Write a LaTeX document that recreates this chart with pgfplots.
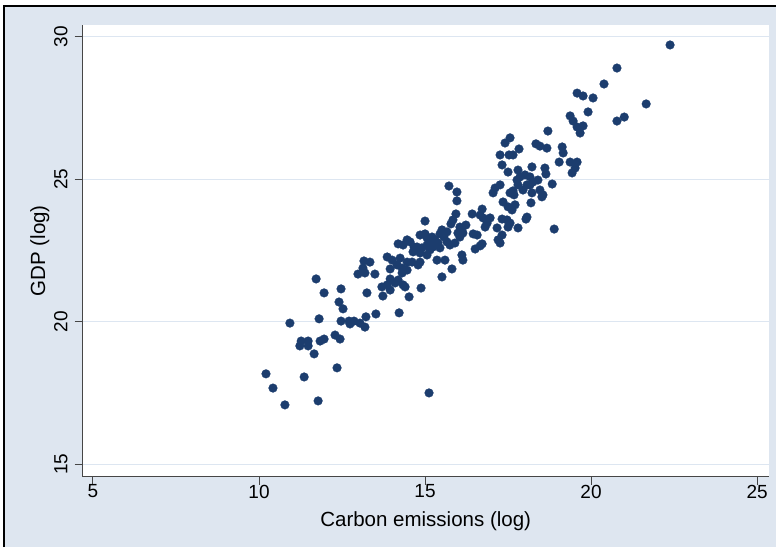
\documentclass[border=0pt]{standalone}
\usepackage{fontspec}
\setmainfont{Liberation Sans}
\usepackage{pgfplots}
\usepackage{pgfplotstable}
\pgfplotsset{compat=1.18}
\definecolor{bgc}{RGB}{222,230,240}
\definecolor{gridc}{RGB}{221,230,241}
\definecolor{mk}{RGB}{28,61,110}
\definecolor{axc}{RGB}{70,70,70}

\pgfplotstableread{
x y
10.21 18.17
10.42 17.67
10.78 17.08
11.36 18.06
11.78 17.22
12.35 18.38
11.66 18.87
10.93 19.95
11.72 21.50
11.96 21.01
11.81 20.10
11.27 19.32
11.48 19.32
11.23 19.15
11.48 19.15
11.84 19.32
11.96 19.39
12.29 19.53
12.44 19.39
12.47 21.15
12.41 20.69
12.53 20.45
12.47 20.02
12.71 20.02
12.86 20.02
12.74 19.92
13.04 19.95
13.19 19.81
13.22 20.17
13.52 20.27
13.25 21.01
12.98 21.67
13.19 21.71
13.49 21.67
15.12 17.50
13.16 22.13
13.34 22.09
13.13 21.88
13.70 21.22
13.86 21.29
13.95 21.11
14.10 21.36
14.34 21.29
14.40 21.22
14.88 21.18
14.52 20.87
13.73 20.90
14.22 20.31
13.86 22.27
14.01 22.16
14.25 22.23
14.46 22.09
14.61 22.09
14.85 22.09
14.16 21.99
14.31 21.88
13.95 21.85
14.31 21.71
14.19 21.46
13.95 21.50
14.46 21.81
14.19 22.73
14.55 22.80
14.67 22.62
14.91 22.59
15.06 22.69
15.15 22.52
15.30 22.87
15.39 22.76
14.64 22.45
14.85 22.41
15.06 22.34
15.36 22.16
15.60 22.16
14.34 22.69
14.46 22.87
14.76 22.62
15.24 22.62
15.45 22.59
15.00 23.53
15.00 23.08
14.85 23.04
15.06 22.94
15.21 22.97
15.24 22.80
14.79 21.99
15.96 24.55
15.96 24.24
15.93 23.78
15.84 23.57
15.78 23.43
15.51 23.22
15.66 23.15
15.57 22.97
15.45 23.08
15.99 23.11
16.14 23.11
15.66 22.80
15.75 22.69
15.90 22.76
16.11 22.34
16.14 22.16
15.81 21.85
15.51 21.57
15.72 24.76
16.23 23.39
16.05 23.32
16.11 23.18
16.05 22.97
16.45 23.08
16.57 23.04
16.51 22.55
16.66 22.66
16.72 22.73
16.42 23.78
16.72 23.95
16.66 23.74
16.75 23.64
16.87 23.57
16.96 23.64
16.81 23.32
16.87 23.46
17.17 23.29
17.50 23.32
17.80 23.29
17.32 23.04
17.20 22.87
17.26 22.76
17.32 23.60
17.47 23.57
17.56 23.46
18.04 23.60
18.89 23.25
17.11 24.69
17.26 24.80
17.05 24.52
17.56 24.52
17.68 24.45
17.65 24.59
17.35 24.20
17.50 24.03
17.62 23.92
17.71 24.10
18.07 23.67
17.32 25.50
17.50 25.25
17.80 25.32
17.86 25.08
17.77 24.97
18.01 25.15
18.22 25.43
18.16 25.08
18.40 24.97
18.61 25.39
18.64 25.18
19.04 25.60
17.80 24.80
17.95 24.62
18.16 24.80
18.46 24.62
18.55 24.45
18.83 24.83
18.22 24.52
18.19 24.17
18.52 24.38
17.56 26.45
17.41 26.27
18.34 26.24
18.67 26.09
17.83 26.06
17.65 25.85
17.53 25.85
17.26 25.85
18.07 24.80
18.25 24.90
18.70 26.69
19.13 26.13
19.16 25.92
19.37 25.60
19.58 25.60
19.52 25.39
19.43 25.22
18.46 26.16
22.38 29.71
20.78 28.90
20.39 28.34
19.58 28.02
19.76 27.92
20.06 27.85
21.66 27.64
19.91 27.36
19.37 27.22
19.46 27.04
19.58 26.83
19.76 26.87
19.67 26.62
21.00 27.18
20.78 27.04
}\pts

\begin{document}
\begin{tikzpicture}[x=1pt,y=1pt]
\fill[white] (-82.7,-70.3) rectangle (693.3,476.7);
\useasboundingbox (-82.7,-70.3) rectangle (693.3,476.7);
\fill[bgc] (-78.7,-70.3) rectangle (693.3,470.7);
\draw[black, line width=1.2pt] (-78.7,-70.3) -- (-78.7,470.7) -- (693.3,470.7);
\begin{axis}[
  at={(0,0)}, anchor=south west,
  scale only axis, width=686pt, height=451.7pt,
  xmin=4.69, xmax=25.35, ymin=14.56, ymax=30.41,
  axis x line*=bottom, axis y line*=left,
  axis line style={axc, line width=1pt},
  axis background/.style={fill=white},
  xtick={5,10,15,20,25}, ytick={15,20,25,30},
  tick align=outside, major tick length=8pt,
  tick style={axc, line width=1pt},
  ymajorgrids, grid style={gridc, line width=1.3pt},
  /pgf/number format/assume math mode=true,
  tick label style={font=\fontsize{19}{19}\selectfont, text=black},
  yticklabel style={rotate=90, anchor=south, inner sep=0pt, yshift=7pt},
  xticklabel style={anchor=north, inner sep=0pt},
  xlabel={Carbon emissions (log)},
  ylabel={GDP (log)},
  label style={font=\fontsize{20.5}{20.5}\selectfont, text=black},
  xlabel style={at={(axis description cs:0.5,0)}, anchor=north, inner sep=0pt, yshift=-35pt},
  ylabel style={at={(axis description cs:0,0.5)}, anchor=south, inner sep=0pt, yshift=33pt},
  clip=false,
]
\addplot[only marks, mark=*, mark size=4.4pt, mark options={fill=mk, draw=mk, line width=0.2pt}] table[x=x,y=y] {\pts};
\end{axis}
\end{tikzpicture}
\end{document}
